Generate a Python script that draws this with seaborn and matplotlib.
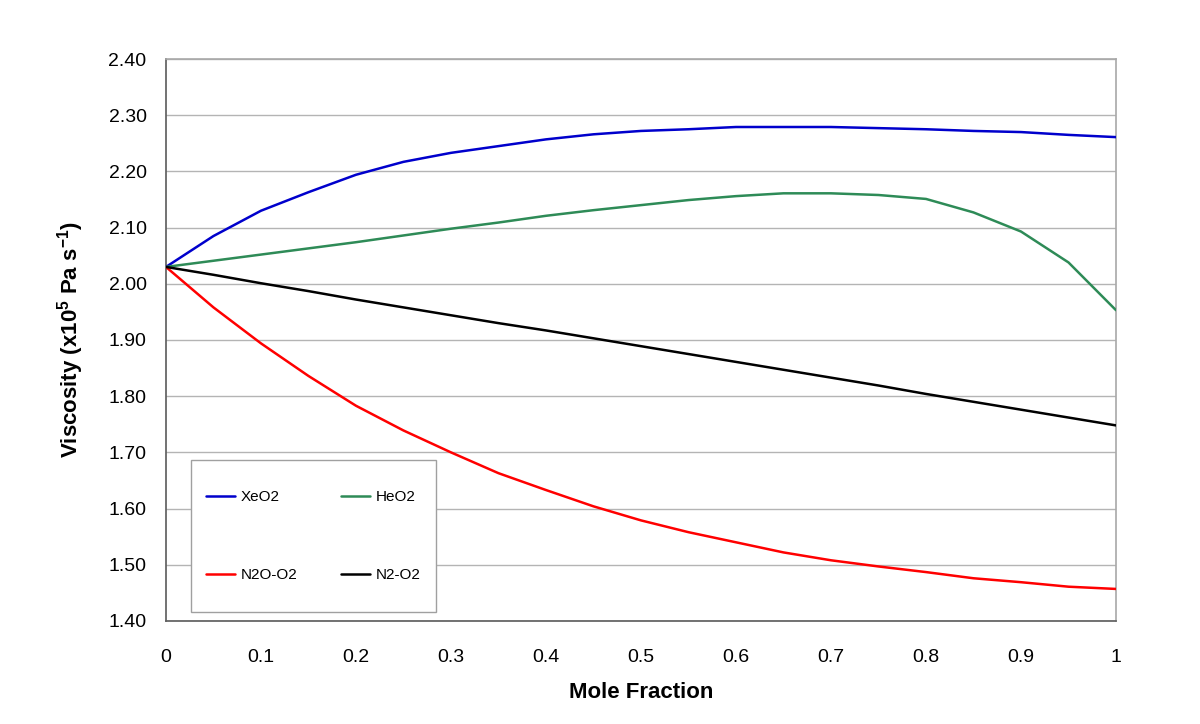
import pandas as pd
import matplotlib
matplotlib.use("Agg")
import matplotlib.pyplot as plt
import seaborn as sns
from matplotlib.patches import Rectangle

# mole fraction grid and viscosities
mole_fraction = [0.00, 0.05, 0.10, 0.15, 0.20, 0.25, 0.30, 0.35, 0.40, 0.45, 0.50,
                 0.55, 0.60, 0.65, 0.70, 0.75, 0.80, 0.85, 0.90, 0.95, 1.00]
xeo2 = [2.030, 2.085, 2.130, 2.163, 2.194, 2.217, 2.233, 2.245, 2.257, 2.266, 2.272,
        2.275, 2.279, 2.279, 2.279, 2.277, 2.275, 2.272, 2.270, 2.265, 2.261]
heo2 = [2.030, 2.041, 2.052, 2.063, 2.074, 2.086, 2.098, 2.109, 2.121, 2.131, 2.140,
        2.149, 2.156, 2.161, 2.161, 2.158, 2.151, 2.127, 2.093, 2.038, 1.953]
n2o_o2 = [2.030, 1.958, 1.894, 1.836, 1.783, 1.739, 1.700, 1.663, 1.633, 1.604, 1.579,
          1.558, 1.540, 1.522, 1.508, 1.497, 1.487, 1.476, 1.469, 1.461, 1.457]
n2_o2 = [2.030, 2.016, 2.001, 1.987, 1.972, 1.958, 1.944, 1.930, 1.917, 1.903, 1.889,
         1.875, 1.861, 1.847, 1.833, 1.819, 1.804, 1.790, 1.776, 1.762, 1.748]

series = {"XeO2": xeo2, "HeO2": heo2, "N2O-O2": n2o_o2, "N2-O2": n2_o2}
colors = {"XeO2": "#0000cc", "HeO2": "#2e8b57", "N2O-O2": "#ff0000", "N2-O2": "#000000"}

frames = []
for name, vals in series.items():
    frames.append(pd.DataFrame({"Mole Fraction": mole_fraction, "Viscosity": vals, "Gas": name}))
df = pd.concat(frames, ignore_index=True)

sns.set_theme(style="white")
plt.rcParams["font.family"] = ["Liberation Sans", "DejaVu Sans"]
plt.rcParams["mathtext.fontset"] = "custom"
plt.rcParams["mathtext.rm"] = "Liberation Sans"
plt.rcParams["mathtext.bf"] = "Liberation Sans:bold"
plt.rcParams["text.color"] = "black"
plt.rcParams["axes.labelcolor"] = "black"

fig = plt.figure(figsize=(12, 7.24), dpi=100)
ax = fig.add_axes([0.1383, 0.1423, 0.7917, 0.7762])

sns.lineplot(data=df, x="Mole Fraction", y="Viscosity", hue="Gas", palette=colors,
             linewidth=1.8, ax=ax, legend=False, zorder=3)

ax.set_xlim(0, 1)
ax.set_ylim(1.40, 2.40)
ax.set_xticks([0, 0.1, 0.2, 0.3, 0.4, 0.5, 0.6, 0.7, 0.8, 0.9, 1.0])
ax.set_xticklabels(["0", "0.1", "0.2", "0.3", "0.4", "0.5", "0.6", "0.7", "0.8", "0.9", "1"])
yt = [1.40 + 0.1 * i for i in range(11)]
ax.set_yticks(yt)
ax.set_yticklabels([f"{v:.2f}" for v in yt])
ax.tick_params(axis="both", direction="out", length=6, width=1, colors="#808080",
               labelcolor="black", labelsize=14)
ax.tick_params(axis="x", pad=14)
ax.tick_params(axis="y", pad=8)
ax.yaxis.grid(True, color="#b4b4b4", linewidth=1)
ax.xaxis.grid(False)
ax.set_axisbelow(True)

for side in ["top", "right"]:
    ax.spines[side].set_color("#a8a8a8")
    ax.spines[side].set_linewidth(1.2)
ax.spines["left"].set_color("#606060")
ax.spines["bottom"].set_color("#606060")

ax.set_xlabel("Mole Fraction", fontsize=16, fontweight="bold", labelpad=12)
ax.set_ylabel(r"Viscosity (x10$^{\mathbf{5}}$ Pa s$^{\mathbf{-1}}$)", fontsize=16,
              fontweight="bold", labelpad=16)

# legend box
ax.add_patch(Rectangle((0.0263, 0.016), 0.258, 0.270, transform=ax.transAxes,
                       facecolor="white", edgecolor="#a0a0a0", linewidth=1, zorder=4))
order = ["XeO2", "N2O-O2", "HeO2", "N2-O2"]  # column-major fill -> rows XeO2/HeO2, N2O-O2/N2-O2
handles = [plt.Line2D([], [], color=colors[k], linewidth=1.8) for k in order]
leg = ax.legend(handles, order, ncol=2, frameon=False, fontsize=11,
                loc="center", bbox_to_anchor=(0.155, 0.151), borderpad=0,
                labelspacing=4.2, columnspacing=2.8, handlelength=1.9, handletextpad=0.4)
leg.set_zorder(5)

fig.savefig("out.png", dpi=100)
